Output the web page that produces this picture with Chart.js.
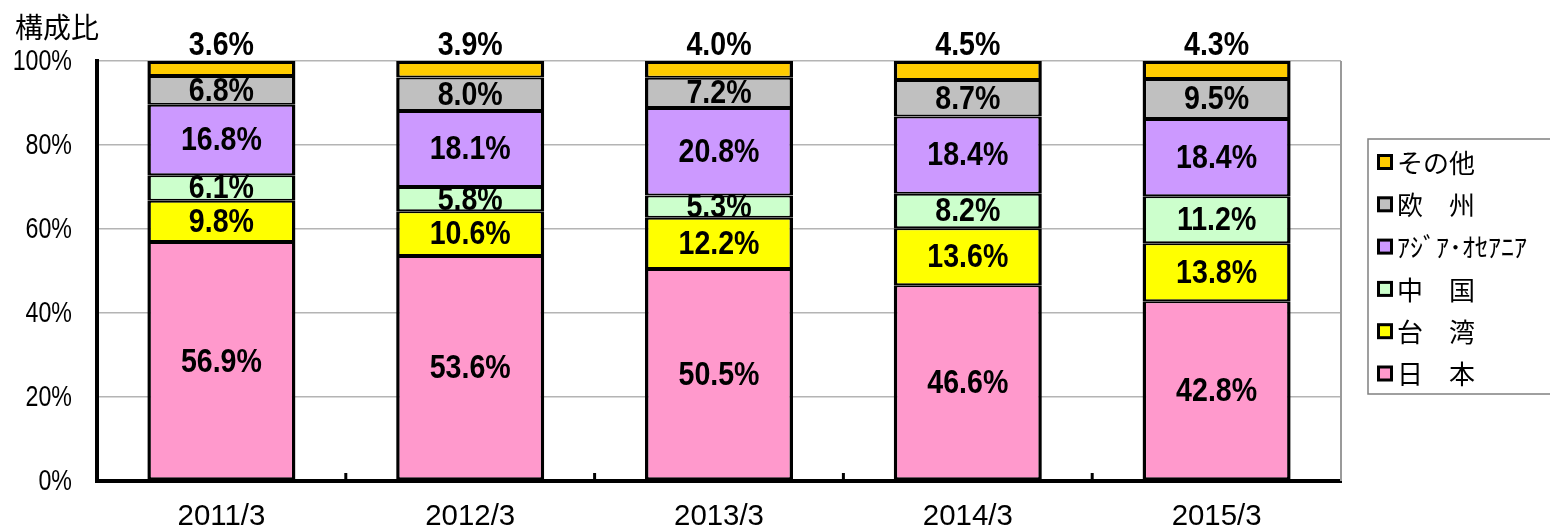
<!DOCTYPE html>
<html>
<head>
<meta charset="utf-8">
<script src="https://cdn.jsdelivr.net/npm/chart.js@4"></script>
<style>
  body { margin: 0; background: #fff; }
  #wrap { width: 1550px; height: 529px; position: relative; }
</style>
</head>
<body>
<div id="wrap"><canvas id="shareChart" width="1550" height="529"></canvas></div>
<script>
const categories = ["2011/3", "2012/3", "2013/3", "2014/3", "2015/3"];
const seriesNames = ["日　本", "台　湾", "中　国", "ｱｼﾞｱ･ｵｾｱﾆｱ", "欧　州", "その他"];
const japan = [56.9, 53.6, 50.5, 46.6, 42.8];
const taiwan = [9.8, 10.6, 12.2, 13.6, 13.8];
const china = [6.1, 5.8, 5.3, 8.2, 11.2];
const asiaOceania = [16.8, 18.1, 20.8, 18.4, 18.4];
const europe = [6.8, 8.0, 7.2, 8.7, 9.5];
const others = [3.6, 3.9, 4.0, 4.5, 4.3];
const yTicks = [0, 20, 40, 60, 80, 100];

const seriesValues = [japan, taiwan, china, asiaOceania, europe, others];
const seriesColors = ["#ff99cc", "#ffff00", "#ccffcc", "#cc99ff", "#c0c0c0", "#ffcc00"];

const NUM_FONT = "'Liberation Sans', Arial, sans-serif";
const JP_FONT = "'Noto Sans CJK JP', sans-serif";

const lastIndex = seriesValues.length - 1;

// no narrow font installed, so squeeze the text horizontally
function narrowText(ctx, text, x, y, squeeze) {
  ctx.save();
  ctx.translate(x, y);
  ctx.scale(squeeze, 1);
  ctx.fillText(text, 0, 0);
  ctx.restore();
}

// labels in the middle of each segment, the top one sits above the bar
const valueLabels = {
  id: "valueLabels",
  afterDatasetsDraw(chart) {
    const ctx = chart.ctx;
    ctx.save();
    ctx.fillStyle = "#000";
    ctx.font = "600 34px " + NUM_FONT;
    ctx.textAlign = "center";
    ctx.textBaseline = "middle";
    chart.data.datasets.forEach((ds, di) => {
      chart.getDatasetMeta(di).data.forEach((bar, i) => {
        const text = ds.data[i].toFixed(1) + "%";
        let y = (bar.y + bar.base) / 2;
        if (di === lastIndex) y = bar.y - 16;
        narrowText(ctx, text, bar.x, y + 1, 0.84);
      });
    });
    ctx.restore();
  },
};

// frame pieces, y tick labels, category tick marks and the legend box
const frame = {
  id: "frame",
  beforeDatasetsDraw(chart) {
    const ctx = chart.ctx;
    const a = chart.chartArea;
    ctx.save();
    ctx.strokeStyle = "#9a9a9a";
    ctx.lineWidth = 2;
    ctx.beginPath();
    ctx.moveTo(a.right, a.top);
    ctx.lineTo(a.right, a.bottom);
    ctx.stroke();
    ctx.restore();
  },
  afterDraw(chart) {
    const ctx = chart.ctx;
    const a = chart.chartArea;
    const xs = chart.scales.x;
    const ys = chart.scales.y;
    ctx.save();
    ctx.strokeStyle = "#000";
    ctx.lineWidth = 3;
    for (let i = 1; i < categories.length; i++) {
      const x = (xs.getPixelForValue(i - 1) + xs.getPixelForValue(i)) / 2;
      ctx.beginPath();
      ctx.moveTo(x, a.bottom);
      ctx.lineTo(x, a.bottom - 8);
      ctx.stroke();
    }

    ctx.fillStyle = "#000";
    ctx.font = "29px " + NUM_FONT;
    ctx.textAlign = "right";
    ctx.textBaseline = "middle";
    yTicks.forEach((v) => {
      narrowText(ctx, v + "%", 72, ys.getPixelForValue(v) + 1, 0.8);
    });

    // category labels
    ctx.font = "30px " + NUM_FONT;
    ctx.textAlign = "center";
    categories.forEach((c, i) => {
      narrowText(ctx, c, xs.getPixelForValue(i), 517, 0.98);
    });

    // title
    ctx.font = "28px " + JP_FONT;
    ctx.textAlign = "left";
    ctx.fillText("構成比", 15, 27);

    // legend
    const lx = 1368, ly = 139;
    ctx.strokeStyle = "#808080";
    ctx.lineWidth = 1.5;
    ctx.strokeRect(lx, ly, 200, 255);
    ctx.font = "26px " + JP_FONT;
    for (let k = 0; k < seriesNames.length; k++) {
      const idx = lastIndex - k;
      const cy = 162 + k * 42.3;
      ctx.fillStyle = seriesColors[idx];
      ctx.fillRect(1378, cy - 7, 14, 14);
      ctx.strokeStyle = "#000";
      ctx.lineWidth = 3;
      ctx.strokeRect(1378.5, cy - 6.5, 13, 13);
      ctx.fillStyle = "#000";
      ctx.fillText(seriesNames[idx], 1397, cy + 1);
    }
    ctx.restore();
  },
};

const datasets = seriesValues.map((values, di) => ({
  label: seriesNames[di],
  data: values,
  backgroundColor: seriesColors[di],
  borderColor: "#000",
  borderWidth: {
    top: di === lastIndex ? 3 : 2,
    bottom: di === 0 ? 3 : 2,
    left: 3.5,
    right: 3.5,
  },
  borderSkipped: false,
  barPercentage: 0.595,
  categoryPercentage: 1,
}));

new Chart(document.getElementById("shareChart"), {
  type: "bar",
  data: { labels: categories, datasets },
  options: {
    responsive: false,
    animation: false,
    layout: { padding: { top: 61, right: 209, left: 0, bottom: 0 } },
    plugins: {
      legend: { display: false },
      tooltip: { enabled: false },
    },
    scales: {
      x: {
        stacked: true,
        grid: { display: false, drawTicks: false },
        border: { display: true, color: "#000", width: 4 },
        ticks: { display: false },
        afterFit(scale) {
          scale.height = 48;
        },
      },
      y: {
        stacked: true,
        min: 0,
        max: 100,
        afterBuildTicks(scale) {
          scale.ticks = yTicks.map((v) => ({ value: v }));
        },
        grid: { color: "#b4b4b4", lineWidth: 1.5, drawTicks: false },
        border: { display: true, color: "#000", width: 4 },
        ticks: { display: false },
        afterFit(scale) {
          scale.width = 97;
        },
      },
    },
  },
  plugins: [frame, valueLabels],
});
</script>
</body>
</html>
